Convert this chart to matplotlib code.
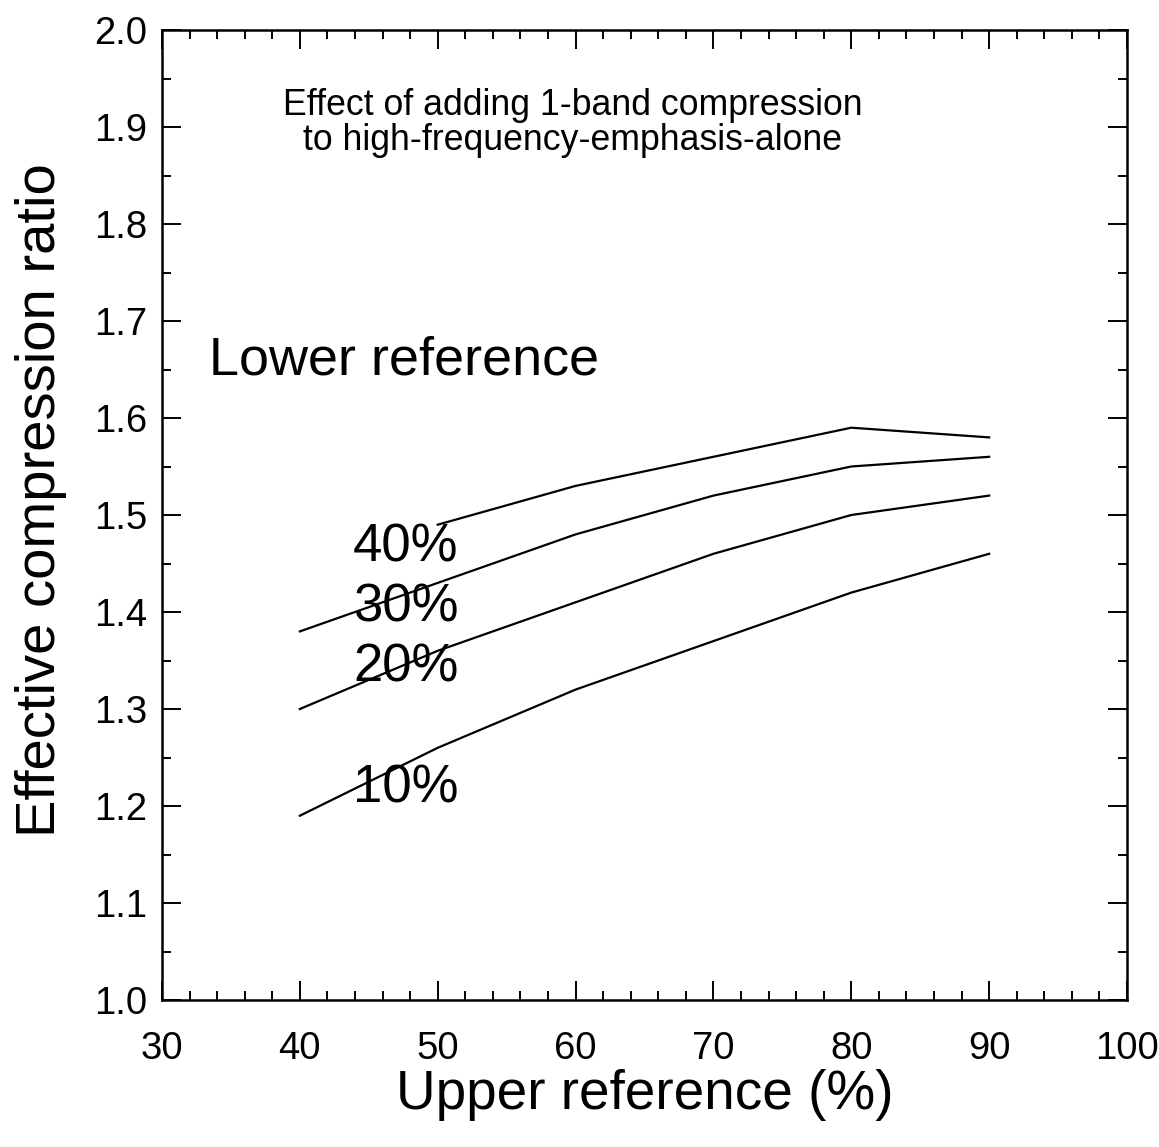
import matplotlib
matplotlib.use("Agg")
import matplotlib.pyplot as plt
from matplotlib.ticker import MultipleLocator

plt.rcParams["font.family"] = ["Liberation Sans", "DejaVu Sans"]

# Upper reference (%) on the x axis
upper_ref = [40, 50, 60, 70, 80, 90]

# Effective compression ratio for each lower reference
ratio_10 = [1.19, 1.26, 1.32, 1.37, 1.42, 1.46]
ratio_20 = [1.30, 1.36, 1.41, 1.46, 1.50, 1.52]
ratio_30 = [1.38, 1.43, 1.48, 1.52, 1.55, 1.56]
upper_ref_40 = [50, 60, 70, 80, 90]
ratio_40 = [1.49, 1.53, 1.56, 1.59, 1.58]

curve_labels = ["10%", "20%", "30%", "40%"]
label_y = [1.204, 1.328, 1.390, 1.452]

fig = plt.figure(figsize=(11.59, 11.47), dpi=100)
ax = fig.add_axes([162 / 1159, 1 - 1000 / 1147, (1127 - 162) / 1159, (1000 - 30) / 1147])

lw = 1.6
ax.plot(upper_ref, ratio_10, color="black", lw=lw)
ax.plot(upper_ref, ratio_20, color="black", lw=lw)
ax.plot(upper_ref, ratio_30, color="black", lw=lw)
ax.plot(upper_ref_40, ratio_40, color="black", lw=lw)

for lab, yy in zip(curve_labels, label_y):
    ax.text(43.85, yy, lab, fontsize=38, ha="left", va="baseline")

ax.text(33.4, 1.645, "Lower reference", fontsize=38.9, ha="left", va="baseline")
ax.text(59.8, 1.912, "Effect of adding 1-band compression", fontsize=25.7,
        ha="center", va="baseline")
ax.text(59.8, 1.876, "to high-frequency-emphasis-alone", fontsize=25.7,
        ha="center", va="baseline")

ax.set_xlim(30, 100)
ax.set_ylim(1.0, 2.0)
ax.xaxis.set_major_locator(MultipleLocator(10))
ax.xaxis.set_minor_locator(MultipleLocator(2))
ax.yaxis.set_major_locator(MultipleLocator(0.1))
ax.yaxis.set_minor_locator(MultipleLocator(0.05))
ax.yaxis.set_major_formatter(plt.FormatStrFormatter("%.1f"))

ax.tick_params(which="both", direction="in", top=True, right=True,
               labelsize=27.5, width=1.4, colors="black")
ax.tick_params(which="major", length=13.5)
ax.tick_params(which="minor", length=6.5)
ax.tick_params(axis="x", which="major", pad=22)
ax.tick_params(axis="y", which="major", pad=10.5)

for sp in ax.spines.values():
    sp.set_linewidth(1.8)

ax.set_xlabel("Upper reference (%)", fontsize=39.5, labelpad=2)
ax.set_ylabel("Effective compression ratio", fontsize=40.5)
ax.yaxis.set_label_coords(-0.098, 0.5155)

fig.savefig("out.png", dpi=100)
